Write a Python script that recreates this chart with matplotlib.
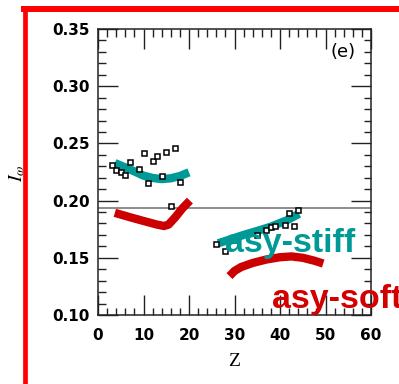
import matplotlib
matplotlib.use("Agg")
import matplotlib.pyplot as plt
from matplotlib.lines import Line2D
from matplotlib.ticker import MultipleLocator

# Measured values: light (Z < 20) and heavier (Z > 25) systems
z_light = [3, 4, 5, 6, 7, 9, 10, 11, 12, 13, 14, 15, 16, 17, 18]
i_light = [0.2311, 0.2267, 0.2247, 0.2226, 0.2335, 0.2276, 0.2419, 0.2151,
           0.2349, 0.2393, 0.2218, 0.2427, 0.1955, 0.2457, 0.2160]
z_heavy = [26, 28, 35, 37, 38, 39, 41, 43, 42, 44]
i_heavy = [0.1625, 0.1560, 0.1700, 0.1747, 0.1770, 0.1774, 0.1787, 0.1782,
           0.1890, 0.1917]

# Model curves
z_stiff_a = [3.7, 6, 8, 10, 12, 14, 16, 18, 20]
i_stiff_a = [0.2328, 0.2290, 0.2255, 0.2218, 0.2198, 0.2188, 0.2195, 0.2215, 0.2247]
z_stiff_b = [26.4, 29, 32, 35, 38, 41.5, 44.2]
i_stiff_b = [0.1627, 0.1660, 0.1700, 0.1735, 0.1772, 0.1828, 0.1885]

z_soft_a = [3.7, 7, 10, 13, 14.5, 15.5, 17, 18.5, 20.2]
i_soft_a = [0.1893, 0.1855, 0.1822, 0.1790, 0.1778, 0.1790, 0.1855, 0.1930, 0.2000]
z_soft_b = [28.9, 30, 31.5, 34, 37, 40, 42.5, 45, 47.5, 49.5]
i_soft_b = [0.1340, 0.1385, 0.1420, 0.1455, 0.1485, 0.1505, 0.1512, 0.1500, 0.1475, 0.1450]

i_ref = 0.1935

teal = "#009a96"
dark_red = "#cc0000"

fig = plt.figure(figsize=(3.99, 3.84), dpi=100)
ax = fig.add_axes([98 / 399, 1 - 315 / 384, 273 / 399, 286 / 384])

ax.axhline(i_ref, color="#6e6e6e", lw=1.1, zorder=1)

ax.plot(z_stiff_a, i_stiff_a, color=teal, lw=6, solid_capstyle="butt", zorder=2)
ax.plot(z_stiff_b, i_stiff_b, color=teal, lw=6, solid_capstyle="butt", zorder=2)
ax.plot(z_soft_a, i_soft_a, color=dark_red, lw=6, solid_capstyle="butt", zorder=2)
ax.plot(z_soft_b, i_soft_b, color=dark_red, lw=6, solid_capstyle="butt", zorder=2)

ax.plot(z_light, i_light, ls="none", marker="s", ms=3.6, mfc="white",
        mec="black", mew=1.1, zorder=3)
ax.plot(z_heavy, i_heavy, ls="none", marker="s", ms=3.6, mfc="white",
        mec="black", mew=1.1, zorder=3)

ax.text(27.9, 0.155, "asy-stiff", color=teal, fontsize=24.5,
        family="Liberation Sans", weight="bold", ha="left", va="baseline",
        zorder=4)
ax.text(38.2, 0.106, "asy-soft", color="#d20000", fontsize=24.5,
        family="Liberation Sans", weight="bold", ha="left", va="baseline",
        zorder=4, clip_on=False)

ax.text(0.899, 0.921, "(e)", transform=ax.transAxes, fontsize=13,
        ha="center", va="center")

ax.set_xlim(0, 60)
ax.set_ylim(0.10, 0.35)
ax.xaxis.set_major_locator(MultipleLocator(10))
ax.xaxis.set_minor_locator(MultipleLocator(2))
ax.yaxis.set_major_locator(MultipleLocator(0.05))
ax.yaxis.set_minor_locator(MultipleLocator(0.01))
ax.set_yticks([0.10, 0.15, 0.20, 0.25, 0.30, 0.35])
ax.set_yticklabels(["0.10", "0.15", "0.20", "0.25", "0.30", "0.35"])

ax.tick_params(which="both", direction="in", top=True, right=True,
               color="#222222", width=1.0)
ax.tick_params(which="major", length=14.4, labelsize=11)
ax.tick_params(which="minor", length=5.4)
ax.tick_params(axis="x", which="major", pad=9)
ax.tick_params(axis="y", which="major", pad=6)
for lab in ax.get_xticklabels() + ax.get_yticklabels():
    lab.set_fontweight("bold")
for s in ax.spines.values():
    s.set_color("#222222")
    s.set_linewidth(1.1)

fig.text(234.5 / 399, 1 - 361 / 384, "Z", family="Liberation Serif",
         fontsize=14, ha="center", va="center")
fig.text(17 / 399, 1 - 173 / 384, r"$I_\omega$", rotation=90, fontsize=14,
         ha="center", va="center", math_fontfamily="stix")

# red frame around the panel
fig.add_artist(Line2D([24 / 399, 1.05], [1 - 9 / 384, 1 - 9 / 384],
                      transform=fig.transFigure, color="#ff0000", lw=4.3,
                      solid_capstyle="projecting", zorder=10))
fig.add_artist(Line2D([24.5 / 399, 24.5 / 399], [1 - 9 / 384, -0.05],
                      transform=fig.transFigure, color="#ff0000", lw=3.4,
                      solid_capstyle="projecting", zorder=10))

fig.savefig("out.png", dpi=100)
